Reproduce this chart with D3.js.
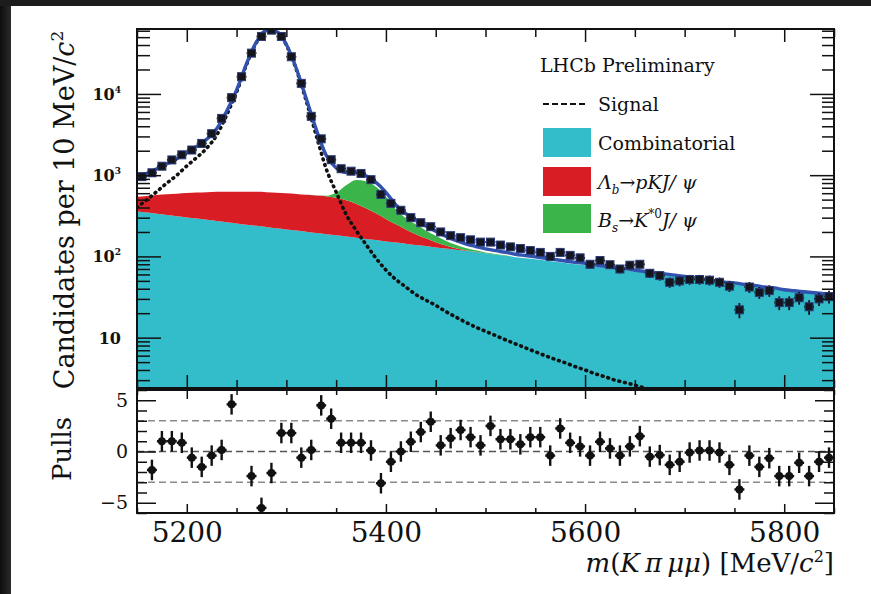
<!DOCTYPE html>
<html>
<head>
<meta charset="utf-8">
<script src="https://cdn.jsdelivr.net/npm/d3@7"></script>
<style>
  body { margin: 0; background: #fff; }
  svg { display: block; }
  text { font-family: "DejaVu Serif", "Liberation Serif", serif; fill: #111; }
  .tick line { stroke: #111; stroke-width: 1.5; }
</style>
</head>
<body>
<svg id="chart" width="871" height="594"></svg>
<script>
// ---- data ----
// fit components on a 10 MeV grid, 5150 .. 5850
var massGrid = d3.range(5150, 5851, 10);
var combinatorial = [358, 346, 334, 323, 312, 302, 292, 282, 273, 264, 255, 246, 238, 230, 222, 215, 208, 201, 194, 188,
  182, 176, 170, 164, 159, 153, 148, 143, 138, 134, 129, 125, 121, 117, 113, 109, 105, 102, 98, 95,
  92, 89, 86, 83, 80, 78, 75, 72, 70, 68, 65, 63, 61, 59, 57, 55, 53, 51, 49, 47,
  46, 44, 43, 41, 40, 38, 37, 36, 35, 34, 33];
var lambdaB = [185, 210, 235, 258, 280, 300, 318, 335, 350, 362, 372, 380, 385, 388, 387, 384, 378, 372, 368, 362,
  345, 315, 275, 228, 180, 135, 100, 72, 50, 33, 20, 11, 5, 2, 1, 0, 0, 0, 0, 0,
  0, 0, 0, 0, 0, 0, 0, 0, 0, 0, 0, 0, 0, 0, 0, 0, 0, 0, 0, 0,
  0, 0, 0, 0, 0, 0, 0, 0, 0, 0, 0];
var bsKstar = [0, 0, 0, 0, 0, 0, 0, 0, 0, 0, 0, 0, 0, 0, 0, 0, 0, 0, 0, 10,
  80, 260, 430, 450, 380, 260, 130, 80, 60, 42, 30, 20, 13, 8, 5, 3, 2, 1, 0, 0,
  0, 0, 0, 0, 0, 0, 0, 0, 0, 0, 0, 0, 0, 0, 0, 0, 0, 0, 0, 0,
  0, 0, 0, 0, 0, 0, 0, 0, 0, 0, 0];
var signal = [400, 500, 630, 800, 1000, 1300, 1650, 2150, 3100, 5500, 10500, 23000, 43000, 59500, 58000, 40000, 20000, 8200, 3100, 1200,
  620, 330, 210, 140, 95, 68, 52, 42, 34, 29, 25, 21, 18, 15.5, 13.5, 12, 10.6, 9.4, 8.4, 7.5,
  6.7, 6.0, 5.4, 4.9, 4.4, 4.0, 3.6, 3.3, 3.0, 2.8, 2.6, 2.4, 2.2, 2.05, 1.9, 1.75, 1.6, 1.5, 1.4, 1.3,
  1.2, 1.12, 1.05, 0.98, 0.92, 0.86, 0.8, 0.75, 0.7, 0.66, 0.62];

// data points, bin centres 5155 .. 5845
var binCentres = d3.range(5155, 5850, 10);
var counts = [960, 1070, 1290, 1540, 1780, 2040, 2460, 3240, 5000, 9000, 16300, 31800, 51000, 61000, 51000, 28700, 13500, 5300, 2800, 1550,
  1200, 1120, 1050, 880, 580, 450, 370, 300, 260, 232, 200, 180, 170, 160, 150, 150, 138, 131, 125, 118,
  112, 100, 112, 103, 96, 80, 89, 79, 70, 78, 80, 62, 58, 48, 50, 52, 52, 51, 48, 43,
  22, 42, 36, 38, 27, 27, 31, 24, 30, 32];
var pulls = [null, -1.8, 1.0, 1.0, 0.85, -0.6, -1.5, -0.4, 0.15, 4.6, null, -2.4, -5.5, -2.1, 1.8, 1.8, -0.6, 0.15, 4.5, 3.2,
  0.85, 0.85, 0.85, 0.1, -3.1, -1.0, 0.0, 0.95, 1.9, 2.9, 0.6, 1.3, 2.1, 1.4, 0.6, 2.5, 1.2, 1.2, 0.7, 1.4,
  1.4, -0.4, 2.25, 0.85, 0.5, -0.4, 0.95, 0.3, -0.4, 0.5, 1.5, -0.5, -0.35, -1.3, -1.0, -0.1, 0.1, 0.1, -0.1, -1.3,
  -3.7, -0.4, -1.5, -0.65, -2.4, -2.4, -1.1, -2.4, -1.0, -0.6];

var xMajor = [5200, 5400, 5600, 5800];
var yDecades = [10, 100, 1000, 10000];
var pullMajor = [-5, 0, 5];
var pullBands = [-3, 3];

var colCombi = "#33bdca", colLambda = "#d81e24", colBs = "#3bb54a", colFit = "#3252b0";

// ---- layout ----
var svg = d3.select("#chart");
var L = 137, R = 834, T = 29, B = 388, PT = 390, PB = 513;

var x = d3.scaleLinear().domain([5150, 5850]).range([L, R]);
var y = d3.scaleLog().domain([2.4, 63000]).range([B, T]);
var yp = d3.scaleLinear().domain([-6, 6]).range([PB, PT]);

// dark photo frame on left and top
var grad = svg.append("defs").append("linearGradient").attr("id", "edge");
grad.append("stop").attr("offset", "0%").attr("stop-color", "#0d0d0d");
grad.append("stop").attr("offset", "100%").attr("stop-color", "#2a2a2a");
svg.append("rect").attr("x", 0).attr("y", 0).attr("width", 11).attr("height", 594).attr("fill", "url(#edge)");
svg.append("rect").attr("x", 0).attr("y", 0).attr("width", 871).attr("height", 6).attr("fill", "#1c1c1c");

svg.select("defs").append("clipPath").attr("id", "clipTop")
  .append("rect").attr("x", L).attr("y", T).attr("width", R - L).attr("height", B - T);

// stacked components
var rows = massGrid.map(function (m, i) {
  var c = combinatorial[i], l = c + lambdaB[i], b = l + bsKstar[i];
  return { m: m, c: c, l: l, b: b, s: signal[i], tot: b + signal[i] };
});

var plot = svg.append("g").attr("clip-path", "url(#clipTop)");
var curve = d3.curveMonotoneX;

plot.append("path").datum(rows).attr("fill", colCombi)
  .attr("d", d3.area().curve(curve).x(function (d) { return x(d.m); }).y0(B).y1(function (d) { return y(d.c); }));
plot.append("path").datum(rows).attr("fill", colLambda)
  .attr("d", d3.area().curve(curve).x(function (d) { return x(d.m); })
    .y0(function (d) { return y(d.c); }).y1(function (d) { return y(d.l); }));
plot.append("path").datum(rows).attr("fill", colBs)
  .attr("d", d3.area().curve(curve).x(function (d) { return x(d.m); })
    .y0(function (d) { return y(d.l); }).y1(function (d) { return y(d.b); }));

// signal, dotted
plot.append("path").datum(rows).attr("fill", "none").attr("stroke", "#111")
  .attr("stroke-width", 3.6).attr("stroke-linecap", "round").attr("stroke-dasharray", "0.8,5")
  .attr("d", d3.line().curve(curve).x(function (d) { return x(d.m); })
    .y(function (d) { return y(Math.max(d.s, 1)); }));

// total fit
plot.append("path").datum(rows).attr("fill", "none").attr("stroke", colFit).attr("stroke-width", 3.4)
  .attr("d", d3.line().curve(curve).x(function (d) { return x(d.m); }).y(function (d) { return y(d.tot); }));

// data points
var pts = binCentres.map(function (m, i) { return { m: m, n: counts[i], p: pulls[i] }; });
var dp = plot.append("g").selectAll("g").data(pts).join("g");
dp.append("line").attr("stroke", "#111").attr("stroke-width", 1.8)
  .attr("x1", function (d) { return x(d.m); }).attr("x2", function (d) { return x(d.m); })
  .attr("y1", function (d) { return y(d.n + Math.sqrt(d.n)); })
  .attr("y2", function (d) { return y(Math.max(d.n - Math.sqrt(d.n), 2.5)); });
dp.append("line").attr("stroke", "#111").attr("stroke-width", 1.8)
  .attr("x1", function (d) { return x(d.m - 5); }).attr("x2", function (d) { return x(d.m + 5); })
  .attr("y1", function (d) { return y(d.n); }).attr("y2", function (d) { return y(d.n); });
dp.append("rect").attr("fill", "#151520").attr("stroke", "#2a3a78").attr("stroke-width", 1)
  .attr("width", 8).attr("height", 8)
  .attr("x", function (d) { return x(d.m) - 4; }).attr("y", function (d) { return y(d.n) - 4; });

// ---- pulls panel ----
var pp = svg.append("g");
pullBands.forEach(function (v) {
  pp.append("line").attr("x1", L).attr("x2", R).attr("y1", yp(v)).attr("y2", yp(v))
    .attr("stroke", "#8a8a8a").attr("stroke-width", 1.4).attr("stroke-dasharray", "7,4");
});
pp.append("line").attr("x1", L).attr("x2", R).attr("y1", yp(0)).attr("y2", yp(0))
  .attr("stroke", "#555").attr("stroke-width", 1.4).attr("stroke-dasharray", "7,4");

var pv = pp.selectAll("g.pull").data(pts.filter(function (d) { return d.p !== null; })).join("g");
pv.append("line").attr("stroke", "#111").attr("stroke-width", 2.4)
  .attr("x1", function (d) { return x(d.m); }).attr("x2", function (d) { return x(d.m); })
  .attr("y1", function (d) { return yp(Math.min(d.p + 1, 6)); })
  .attr("y2", function (d) { return yp(Math.max(d.p - 1, -6)); });
pv.append("line").attr("stroke", "#111").attr("stroke-width", 2.4)
  .attr("x1", function (d) { return x(d.m - 5); }).attr("x2", function (d) { return x(d.m + 5); })
  .attr("y1", function (d) { return yp(d.p); }).attr("y2", function (d) { return yp(d.p); });
pv.append("circle").attr("fill", "#111").attr("r", 4)
  .attr("cx", function (d) { return x(d.m); }).attr("cy", function (d) { return yp(d.p); });

// ---- axes ----
function clean(g) { g.select(".domain").remove(); return g; }
var xMinor = d3.range(5150, 5851, 50).filter(function (v) { return xMajor.indexOf(v) < 0; });
var yMinor = [];
[1, 10, 100, 1000, 10000].forEach(function (dec) {
  d3.range(2, 10).forEach(function (k) { if (dec * k >= 2.4 && dec * k <= 63000) yMinor.push(dec * k); });
});

function xTicks(yPos, top, len, vals) {
  var ax = (top ? d3.axisTop(x) : d3.axisBottom(x)).tickValues(vals).tickSize(-len).tickFormat("");
  svg.append("g").attr("transform", "translate(0," + yPos + ")").call(ax).call(clean);
}
xTicks(T, true, 13, xMajor); xTicks(T, true, 8, xMinor);
xTicks(B, false, 13, xMajor); xTicks(B, false, 8, xMinor);
xTicks(PT, true, 9, xMajor); xTicks(PT, true, 5, xMinor);
xTicks(PB, false, 9, xMajor); xTicks(PB, false, 5, xMinor);

function yTicks(scale, xPos, right, len, vals) {
  var ax = (right ? d3.axisRight(scale) : d3.axisLeft(scale)).tickValues(vals).tickSize(-len).tickFormat("");
  svg.append("g").attr("transform", "translate(" + xPos + ",0)").call(ax).call(clean);
}
yTicks(y, L, false, 24, yDecades); yTicks(y, L, false, 13, yMinor);
yTicks(y, R, true, 24, yDecades); yTicks(y, R, true, 12, yMinor);
var pullMinor = d3.range(-6, 7).filter(function (v) { return pullMajor.indexOf(v) < 0; });
yTicks(yp, L, false, 19, pullMajor); yTicks(yp, L, false, 10, pullMinor);
yTicks(yp, R, true, 19, pullMajor); yTicks(yp, R, true, 10, pullMinor);

// frames
[[T, B], [PT, PB]].forEach(function (f) {
  svg.append("rect").attr("x", L).attr("y", f[0]).attr("width", R - L).attr("height", f[1] - f[0])
    .attr("fill", "none").attr("stroke", "#111").attr("stroke-width", 2);
});

// tick labels
svg.append("g").attr("transform", "translate(0," + PB + ")")
  .call(d3.axisBottom(x).tickValues(xMajor).tickSize(0).tickPadding(9).tickFormat(d3.format("d")))
  .call(clean).selectAll("text").attr("font-size", 28).attr("font-family", "DejaVu Serif");

svg.append("g").attr("transform", "translate(" + L + ",0)")
  .call(d3.axisLeft(yp).tickValues(pullMajor).tickSize(0).tickPadding(9))
  .call(clean).selectAll("text").attr("font-size", 19).attr("font-family", "DejaVu Serif");

yDecades.forEach(function (v) {
  var e = Math.round(Math.log10(v));
  var t = svg.append("text").attr("x", 121).attr("y", y(v) + 6).attr("text-anchor", "end")
    .attr("font-size", 16).attr("font-weight", "bold");
  t.append("tspan").text("10");
  if (e > 1) t.append("tspan").attr("font-size", 9).attr("dy", -7).text(e);
});

// axis titles
var yt = svg.append("text").attr("transform", "translate(74,210) rotate(-90)")
  .attr("text-anchor", "middle").attr("font-size", 27);
yt.append("tspan").text("Candidates per 10 MeV/");
yt.append("tspan").attr("font-style", "italic").text("c");
yt.append("tspan").attr("font-size", 17).attr("dy", -11).text("2");

svg.append("text").attr("transform", "translate(71,449) rotate(-90)")
  .attr("text-anchor", "middle").attr("font-size", 26).text("Pulls");

var xt = svg.append("text").attr("x", 834).attr("y", 572).attr("text-anchor", "end").attr("font-size", 26);
xt.append("tspan").attr("font-style", "italic").text("m");
xt.append("tspan").text("(");
xt.append("tspan").attr("font-style", "italic").text("K\u2009\u03c0\u2009\u03bc\u03bc");
xt.append("tspan").text(") [MeV/");
xt.append("tspan").attr("font-style", "italic").text("c");
xt.append("tspan").attr("font-size", 16).attr("dy", -10).text("2");
xt.append("tspan").attr("dy", 10).text("]");

// ---- legend ----
var lg = svg.append("g").attr("font-size", 19);
lg.append("text").attr("x", 540).attr("y", 72).text("LHCb Preliminary");
lg.append("line").attr("x1", 543).attr("x2", 586).attr("y1", 104).attr("y2", 104)
  .attr("stroke", "#111").attr("stroke-width", 2).attr("stroke-dasharray", "6,3");
lg.append("text").attr("x", 598).attr("y", 111).text("Signal");

var boxes = [
  { col: colCombi, y: 128 },
  { col: colLambda, y: 167 },
  { col: colBs, y: 204 }
];
boxes.forEach(function (b) {
  lg.append("rect").attr("x", 543).attr("y", b.y).attr("width", 48).attr("height", 29).attr("fill", b.col);
});
lg.append("text").attr("x", 598).attr("y", 150).text("Combinatorial");

var t1 = lg.append("text").attr("x", 598).attr("y", 189).attr("font-style", "italic");
t1.append("tspan").text("\u039b");
t1.append("tspan").attr("font-size", 12).attr("dy", 5).text("b");
t1.append("tspan").attr("dy", -5).attr("font-style", "normal").text("\u2192");
t1.append("tspan").text("pKJ/ \u03c8");

var t2 = lg.append("text").attr("x", 598).attr("y", 227).attr("font-style", "italic");
t2.append("tspan").text("B");
t2.append("tspan").attr("font-size", 12).attr("dy", 5).text("s");
t2.append("tspan").attr("dy", -5).attr("font-style", "normal").text("\u2192");
t2.append("tspan").text("K");
t2.append("tspan").attr("font-size", 12).attr("dy", -9).attr("font-style", "normal").text("*0");
t2.append("tspan").attr("dy", 9).text("J/ \u03c8");
</script>
</body>
</html>
